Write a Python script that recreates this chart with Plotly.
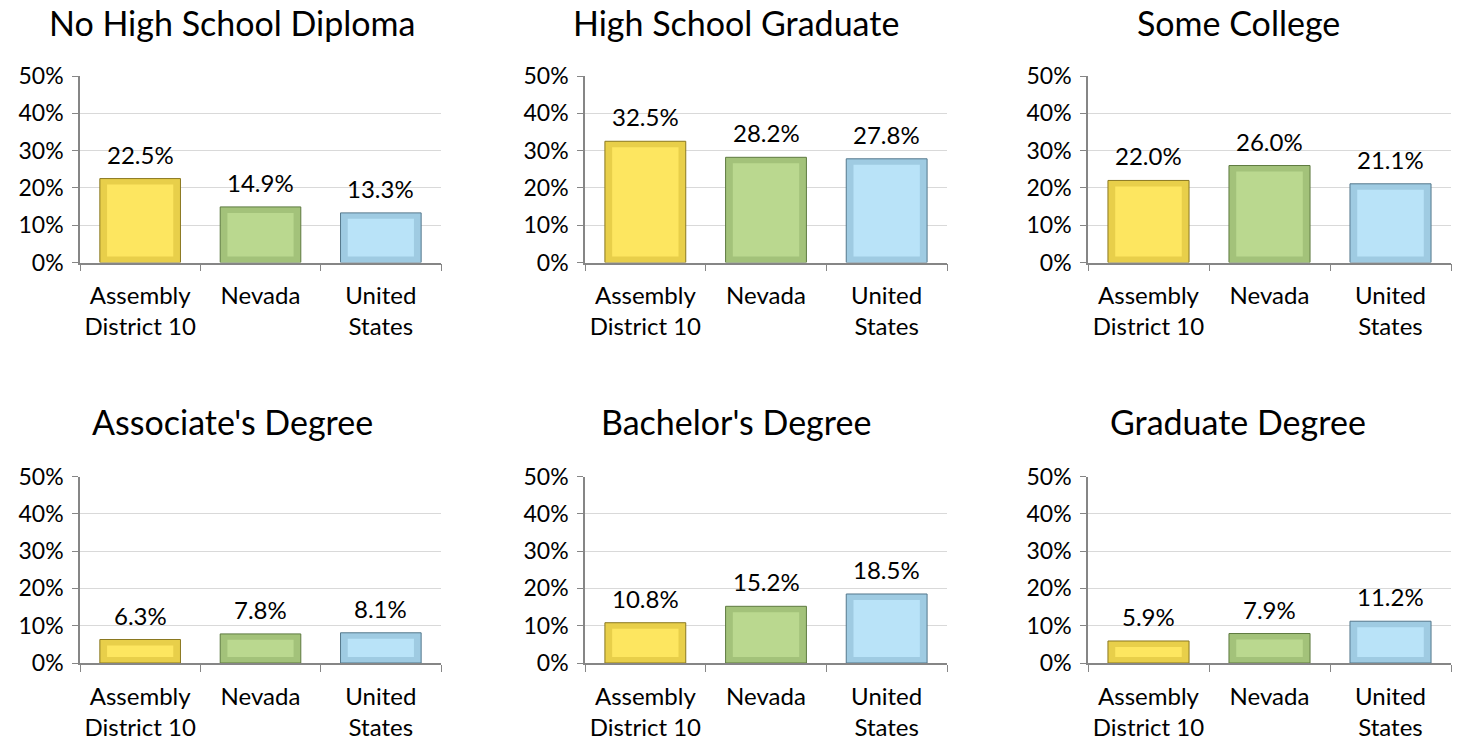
import plotly.graph_objects as go

# ---- data ----
titles = ["No High School Diploma", "High School Graduate", "Some College",
          "Associate's Degree", "Bachelor's Degree", "Graduate Degree"]
categories = ["Assembly<br>District 10", "Nevada", "United<br>States"]
no_hs = [22.5, 14.9, 13.3]
hs_grad = [32.5, 28.2, 27.8]
some_college = [22.0, 26.0, 21.1]
associate = [6.3, 7.8, 8.1]
bachelor = [10.8, 15.2, 18.5]
graduate = [5.9, 7.9, 11.2]
panels = [no_hs, hs_grad, some_college, associate, bachelor, graduate]
y_ticks = [0, 10, 20, 30, 40, 50]

# ---- style ----
FONT = "Lato"
face_colors = ["#FDE660", "#BAD88F", "#B9E3F8"]
edge_colors = ["#E8CF4A", "#A3C27A", "#9FCBE2"]
line_colors = ["#8A7820", "#5E7A40", "#55788C"]
BEVEL = 1.6
x_domains = [(80/1462, 441/1462), (585/1462, 947/1462), (1088/1462, 1451/1462)]
y_domains = [(1-262.5/740, 1-76/740), (1-663/740, 1-476.5/740)]
title_x = [232, 736, 1238]
title_y = [22, 422]
axis_gray = "#868686"

fig = go.Figure()
annotations = []
for i, vals in enumerate(panels):
    r, c = divmod(i, 3)
    n = i + 1
    xa = "x" if n == 1 else f"x{n}"
    ya = "y" if n == 1 else f"y{n}"
    fig.add_trace(go.Bar(
        x=categories, y=vals, width=0.67,
        marker=dict(color=edge_colors, line=dict(color=line_colors, width=1)),
        xaxis=xa, yaxis=ya, showlegend=False, hoverinfo="skip"))
    fig.add_trace(go.Bar(
        x=categories, y=[max(v - 2 * BEVEL, 0.2) for v in vals], base=BEVEL, width=0.55,
        marker=dict(color=face_colors, line=dict(width=0)),
        xaxis=xa, yaxis=ya, showlegend=False, hoverinfo="skip"))
    for cat, v in zip(categories, vals):
        annotations.append(dict(x=cat, y=v, xref=xa, yref=ya, text=f"{v:.1f}%",
                                showarrow=False, yanchor="bottom", yshift=8,
                                font=dict(family=FONT, size=24, color="#000000")))
    annotations.append(dict(x=title_x[c] / 1462, y=1 - title_y[r] / 740, xref="paper", yref="paper",
                            text=titles[i], showarrow=False, xanchor="center", yanchor="middle",
                            font=dict(family=FONT, size=34, color="#000000")))
    xkey = "xaxis" if n == 1 else f"xaxis{n}"
    ykey = "yaxis" if n == 1 else f"yaxis{n}"
    fig.update_layout(**{
        xkey: dict(domain=list(x_domains[c]), anchor=ya, type="category", automargin=False,
                   range=[-0.5, 2.5], showline=True, linecolor=axis_gray, linewidth=1.5,
                   ticks="outside", tickson="boundaries", ticklen=7, tickcolor=axis_gray,
                   ticklabelstandoff=11, tickangle=0,
                   showgrid=False, fixedrange=True,
                   tickfont=dict(family=FONT, size=24, color="#000000")),
        ykey: dict(domain=list(y_domains[r]), anchor=xa, range=[0, 50], automargin=False,
                   tickvals=y_ticks, ticktext=[f"{t}%" for t in y_ticks],
                   showline=True, linecolor=axis_gray, linewidth=1.5,
                   ticks="outside", ticklen=6, tickcolor=axis_gray, ticklabelstandoff=4,
                   showgrid=True, gridcolor="#D9D9D9", gridwidth=1, zeroline=False,
                   fixedrange=True,
                   tickfont=dict(family=FONT, size=23, color="#000000")),
    })

fig.update_layout(width=1462, height=740, barmode="overlay",
                  margin=dict(l=0, r=0, t=0, b=0),
                  plot_bgcolor="white", paper_bgcolor="white",
                  annotations=annotations, font=dict(family=FONT))
fig.write_html("out.html", config={"displayModeBar": False},
               post_script="document.body.style.margin='0';document.body.style.overflow='hidden';")
